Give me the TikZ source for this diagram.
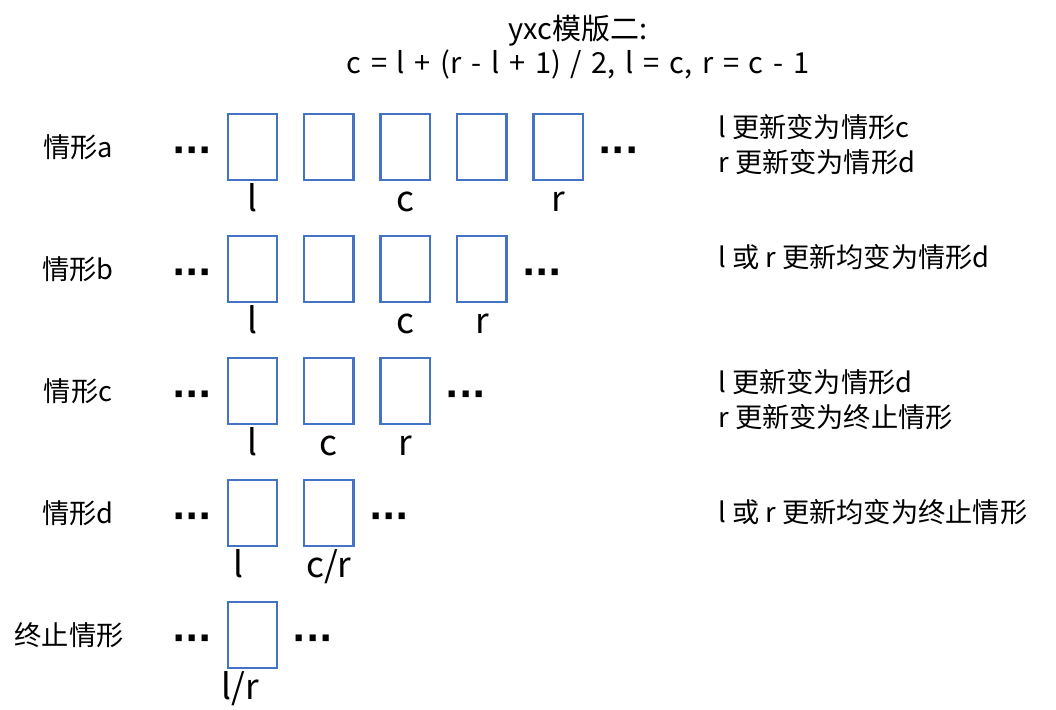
\documentclass[tikz,border=0pt]{standalone}
\usepackage{fontspec}
\setmainfont{Noto Sans CJK SC}
\newfontfamily\titlefont{Noto Sans CJK SC}[WordSpace=1.5]
\newfontfamily\dotsfont{DejaVu Sans}
\usetikzlibrary{positioning}
\definecolor{cellblue}{HTML}{4472C4}

\begin{document}
\begin{tikzpicture}
  [x=0.02cm, y=-0.02cm, node distance=0.49cm,
   cell/.style={draw=cellblue, line width=1.4pt, minimum width=0.99cm, minimum height=1.31cm, inner sep=0pt},
   idx/.style={font=\fontsize{20}{24}\selectfont, inner sep=0pt, anchor=north, yshift=-0.08cm, text height=15pt, text depth=4pt},
   case/.style={font=\fontsize{15.5}{19}\selectfont, inner sep=0pt},
   note/.style={font=\fontsize{15.5}{20}\selectfont, inner sep=0pt, align=left, anchor=west},
   more/.style={font=\dotsfont\bfseries\fontsize{20}{20}\selectfont, inner sep=0pt, text height=0pt, text depth=0pt, yshift=-0.31cm}]
  \useasboundingbox (0,0) rectangle (1056,710);

  % title
  \node [align=center, inner sep=0pt, font=\titlefont\fontsize{16.5}{19.3}\selectfont] (title) at (578,47)
    {yxc模版二:\\c = l + (r - l + 1) / 2, l = c, r = c - 1};

  % case a
  \node [case] (sa) at (78,147) {情形a};
  \node [cell] (a1) at (252.5,147) {};
  \node [cell] (a2) [right=of a1] {};
  \node [cell] (a3) [right=of a2] {};
  \node [cell] (a4) [right=of a3] {};
  \node [cell] (a5) [right=of a4] {};
  \node [more] (al) [left=0.28cm of a1] {···};
  \node [more] (ar) [right=0.28cm of a5] {···};
  \node [idx] at (a1.south) {l};
  \node [idx] at (a3.south) {c};
  \node [idx] at (a5.south) {r};
  \node [note] (na) at (718,145) {l 更新变为情形c\\r 更新变为情形d};

  % case b
  \node [case] (sb) at (78,269) {情形b};
  \node [cell] (b1) at (252.5,269) {};
  \node [cell] (b2) [right=of b1] {};
  \node [cell] (b3) [right=of b2] {};
  \node [cell] (b4) [right=of b3] {};
  \node [more] (bl) [left=0.28cm of b1] {···};
  \node [more] (br) [right=0.28cm of b4] {···};
  \node [idx] at (b1.south) {l};
  \node [idx] at (b3.south) {c};
  \node [idx] at (b4.south) {r};
  \node [note] (nb) at (718,257) {l 或 r 更新均变为情形d};

  % case c
  \node [case] (sc) at (78,391) {情形c};
  \node [cell] (c1) at (252.5,391) {};
  \node [cell] (c2) [right=of c1] {};
  \node [cell] (c3) [right=of c2] {};
  \node [more] (cl) [left=0.28cm of c1] {···};
  \node [more] (cr) [right=0.28cm of c3] {···};
  \node [idx] at (c1.south) {l};
  \node [idx] at (c2.south) {c};
  \node [idx] at (c3.south) {r};
  \node [note] (nc) at (718,400) {l 更新变为情形d\\r 更新变为终止情形};

  % case d
  \node [case] (sd) at (78,513) {情形d};
  \node [cell] (d1) at (252.5,513) {};
  \node [cell] (d2) [right=of d1] {};
  \node [more] (dl) [left=0.28cm of d1] {···};
  \node [more] (dr) [right=0.28cm of d2] {···};
  \node [idx, xshift=-0.28cm] at (d1.south) {l};
  \node [idx] at (d2.south) {c/r};
  \node [note] (nd) at (718,512) {l 或 r 更新均变为终止情形};

  % end case
  \node [case] (se) at (69,635) {终止情形};
  \node [cell] (e1) at (252.5,635) {};
  \node [more] (el) [left=0.28cm of e1] {···};
  \node [more] (er) [right=0.28cm of e1] {···};
  \node [idx, xshift=-0.24cm] at (e1.south) {l/r};
\end{tikzpicture}
\end{document}
